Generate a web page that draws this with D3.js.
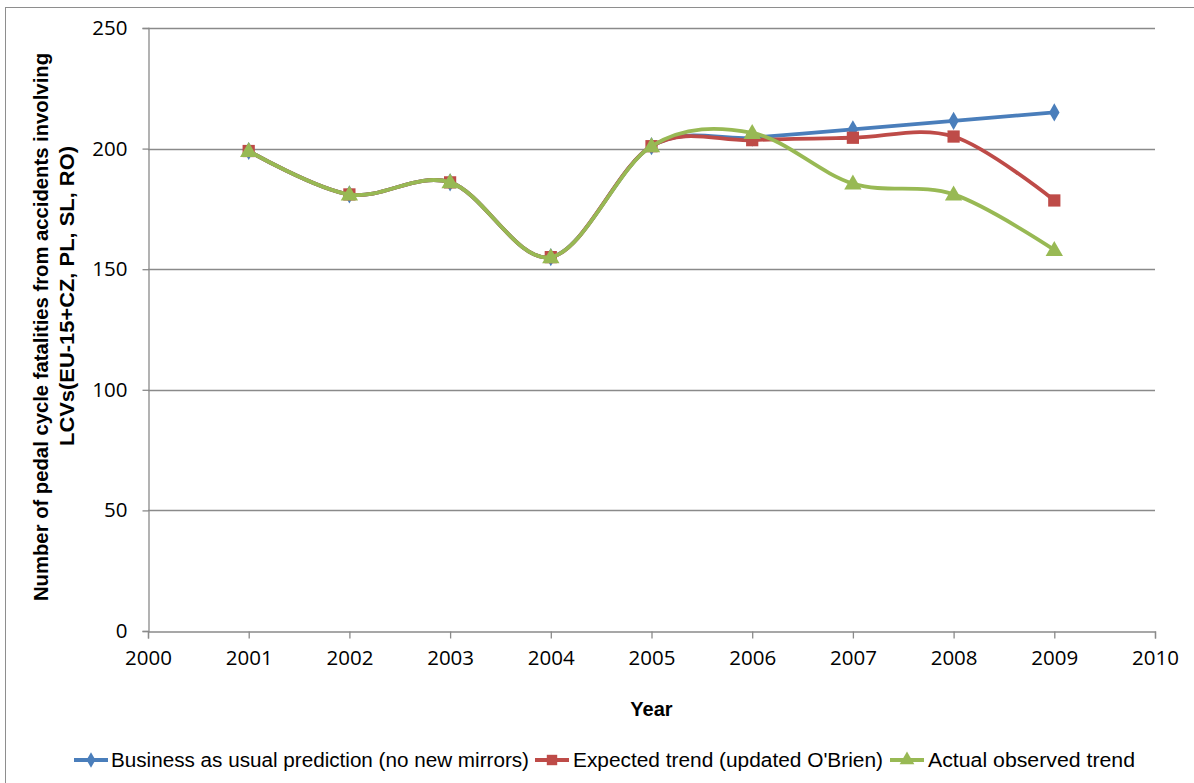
<!DOCTYPE html>
<html>
<head>
<meta charset="utf-8">
<script src="https://cdn.jsdelivr.net/npm/d3@7/dist/d3.min.js"></script>
<style>
  html, body { margin: 0; padding: 0; background: #fff; }
  svg { display: block; }
</style>
</head>
<body>
<svg id="chart" width="1194" height="783"></svg>
<script>
// ---- data ----
const years = [2001, 2002, 2003, 2004, 2005, 2006, 2007, 2008, 2009];
const businessAsUsual = [199, 181, 186, 155, 201, 204.5, 208, 211.5, 215];
const expectedTrend   = [199, 181, 186, 155, 201, 203.5, 204.5, 205, 178.5];
const actualObserved  = [199, 181, 186, 155, 201, 206.5, 185.5, 181, 158];
const seriesNames = [
  "Business as usual prediction (no new mirrors)",
  "Expected trend (updated O'Brien)",
  "Actual observed trend"
];
const xTicks = [2000, 2001, 2002, 2003, 2004, 2005, 2006, 2007, 2008, 2009, 2010];
const yTicks = [0, 50, 100, 150, 200, 250];
const yTitleLines = [
  "Number of pedal cycle fatalities from accidents involving",
  "LCVs(EU-15+CZ, PL, SL, RO)"
];
const xTitle = "Year";

// ---- layout ----
const svg = d3.select("#chart");
const W = 1194, H = 783;
const plot = { left: 148, right: 1155, top: 28, bottom: 631 };

const x = d3.scaleLinear().domain([2000, 2010]).range([plot.left, plot.right]);
const y = d3.scaleLinear().domain([0, 250]).range([plot.bottom, plot.top]);

const colors = ["#4a7ebb", "#be4b48", "#98b954"];
const shapes = ["diamond", "square", "triangle"];
const series = [businessAsUsual, expectedTrend, actualObserved];

const tickFont = "'Open Sans', 'DejaVu Sans', sans-serif";
const labelFont = "'Liberation Sans Narrow', 'Liberation Sans', Arial, sans-serif";

// outer chart frame
svg.append("rect")
  .attr("x", 5.5).attr("y", 7.5)
  .attr("width", W + 20).attr("height", H + 20)
  .attr("fill", "none").attr("stroke", "#8e8e8e").attr("stroke-width", 1);

// horizontal gridlines
svg.append("g")
  .selectAll("line")
  .data(yTicks.filter(d => d > 0))
  .join("line")
  .attr("x1", plot.left).attr("x2", plot.right)
  .attr("y1", d => Math.round(y(d)) + 0.5).attr("y2", d => Math.round(y(d)) + 0.5)
  .attr("stroke", "#8a8a8a").attr("stroke-width", 1.3);

// y axis
const yAxis = svg.append("g")
  .attr("transform", `translate(${plot.left + 0.5},0)`)
  .call(d3.axisLeft(y).tickValues(yTicks).tickSize(6).tickPadding(15).tickFormat(d3.format("d")));
yAxis.select(".domain").attr("stroke", "#8a8a8a").attr("stroke-width", 1.3);
yAxis.selectAll(".tick line").attr("stroke", "#8a8a8a").attr("stroke-width", 1.3);
yAxis.selectAll(".tick text")
  .attr("font-family", tickFont).attr("font-size", 20.5).attr("fill", "#000");

// x axis
const xAxis = svg.append("g")
  .attr("transform", `translate(0,${plot.bottom + 0.5})`)
  .call(d3.axisBottom(x).tickValues(xTicks).tickSize(7).tickPadding(12).tickFormat(d3.format("d")));
xAxis.select(".domain").attr("stroke", "#8a8a8a").attr("stroke-width", 1.3);
xAxis.selectAll(".tick line").attr("stroke", "#8a8a8a").attr("stroke-width", 1.3);
xAxis.selectAll(".tick text")
  .attr("font-family", tickFont).attr("font-size", 20.5).attr("fill", "#000");

// axis titles
svg.append("text")
  .attr("x", (plot.left + plot.right) / 2).attr("y", 716)
  .attr("text-anchor", "middle")
  .attr("font-family", labelFont).attr("font-weight", "bold")
  .attr("font-size", 20).attr("fill", "#000")
  .text(xTitle);

const yTitleLen = [548, 300];
const yTitleCenter = [327, 296];
yTitleLines.forEach((line, i) => {
  svg.append("text")
    .attr("transform", `translate(${48 + i * 26},${yTitleCenter[i]}) rotate(-90)`)
    .attr("text-anchor", "middle")
    .attr("font-family", labelFont).attr("font-weight", "bold")
    .attr("font-size", 20).attr("fill", "#000")
    .attr("textLength", yTitleLen[i]).attr("lengthAdjust", "spacingAndGlyphs")
    .text(line);
});

// marker symbols
function marker(shape) {
  if (shape === "diamond") return d3.symbol().type(d3.symbolDiamond).size(95)();
  if (shape === "square") return d3.symbol().type(d3.symbolSquare).size(150)();
  return d3.symbol().type(d3.symbolTriangle).size(130)();
}

// lines (Excel-style smoothed)
const line = d3.line()
  .x((d, i) => x(years[i]))
  .y(d => y(d))
  .curve(d3.curveCardinal.tension(0));

series.forEach((vals, s) => {
  const g = svg.append("g");
  g.append("path")
    .datum(vals)
    .attr("d", line)
    .attr("fill", "none")
    .attr("stroke", colors[s])
    .attr("stroke-width", 3.8)
    .attr("stroke-linejoin", "round");
  g.selectAll("path.m")
    .data(vals)
    .join("path")
    .attr("class", "m")
    .attr("d", marker(shapes[s]))
    .attr("transform", (d, i) => `translate(${x(years[i])},${y(d) + (shapes[s] === "triangle" ? 1 : 0)})`)
    .attr("fill", colors[s]);
});

// legend
const legendItems = [
  { lineX: 74, textX: 111, textLen: 418 },
  { lineX: 535, textX: 573, textLen: 310 },
  { lineX: 890, textX: 928, textLen: 207 }
];
const legendY = 760;
legendItems.forEach((it, s) => {
  const g = svg.append("g");
  g.append("line")
    .attr("x1", it.lineX).attr("x2", it.lineX + 34)
    .attr("y1", legendY).attr("y2", legendY)
    .attr("stroke", colors[s]).attr("stroke-width", 3.8);
  g.append("path")
    .attr("d", marker(shapes[s]))
    .attr("transform", `translate(${it.lineX + 17},${legendY}) scale(0.85)`)
    .attr("fill", colors[s]);
  g.append("text")
    .attr("x", it.textX).attr("y", legendY + 7)
    .attr("font-family", labelFont).attr("font-size", 20).attr("fill", "#000")
    .attr("textLength", it.textLen).attr("lengthAdjust", "spacingAndGlyphs")
    .text(seriesNames[s]);
});
</script>
</body>
</html>
